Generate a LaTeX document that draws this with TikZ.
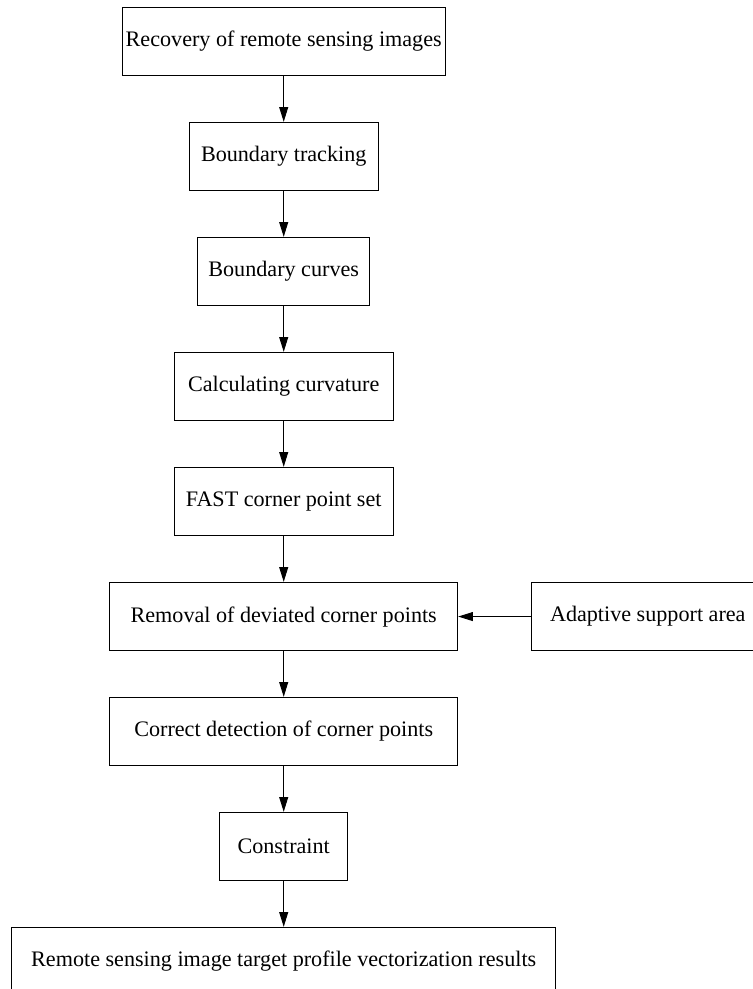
\documentclass[tikz,border=0pt]{standalone}
\usepackage{fontspec}
\setmainfont{Liberation Serif}
\usepackage{tikz}
\usetikzlibrary{arrows.meta,positioning}

\begin{document}
\begin{tikzpicture}[
  box/.style={draw, line width=0.9pt, minimum height=2.283cm, inner sep=0pt,
              font=\fontsize{21}{25}\selectfont},
  flow/.style={line width=0.9pt, -{Triangle[length=14pt,width=8.5pt]}}]
\useasboundingbox (0,0) rectangle (25.1,-32.967);
\clip (0,0) rectangle (25.1,-32.967);
% ---------- main column
\foreach \n/\y/\w/\t in {
    recovery/-1.385/10.777/Recovery of remote sensing images,
    tracking/-5.218/6.3/Boundary tracking,
    curves/-9.052/5.733/Boundary curves,
    curvature/-12.885/7.3/Calculating curvature,
    fast/-16.718/7.3/FAST corner point set,
    removal/-20.552/11.6/Removal of deviated corner points,
    correct/-24.385/11.6/Correct detection of corner points,
    constraint/-28.218/4.25/Constraint,
    results/-32.052/18.143/Remote sensing image target profile vectorization results}{
  \node[box, minimum width=\w cm] (\n) at (9.457,\y) {\t};}

% ---------- side input
\node[box, minimum width=7.783cm] (support) at (21.593,-20.552) {Adaptive support area};

% ---------- connectors
\foreach \a/\b in {recovery/tracking, tracking/curves, curves/curvature,
    curvature/fast, fast/removal, removal/correct, correct/constraint,
    constraint/results}
  \draw[flow] (\a) -- (\b);
\draw[flow] (support) -- (removal);
\end{tikzpicture}
\end{document}
